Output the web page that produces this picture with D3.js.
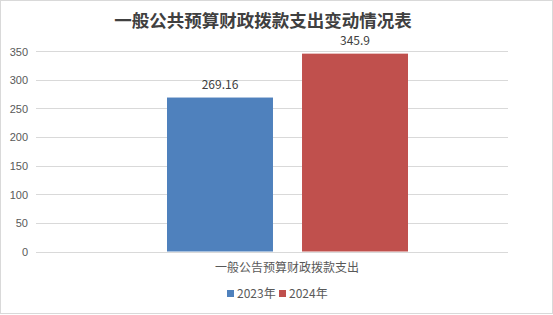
<!DOCTYPE html>
<html lang="zh">
<head>
  <meta charset="UTF-8" />
  <title>一般公共预算财政拨款支出变动情况表</title>
  <style>
    body { margin: 0; background: #fff; }
    svg { display: block; font-family: "Noto Sans CJK SC", "Liberation Sans", sans-serif; }
    .grid line { stroke: #d9d9d9; stroke-width: 1; }
    .axis text { fill: #595959; font-size: 11px; }
  </style>
</head>
<body>
  <script src="https://d3js.org/d3.v7.min.js"></script>
  <script>
    // data
    const category = "一般公告预算财政拨款支出";
    const years = ["2023年", "2024年"];
    const values = [269.16, 345.9];
    const colors = ["#4f81bd", "#c0504d"];
    const ticks = [0, 50, 100, 150, 200, 250, 300, 350];

    const width = 553, height = 315;
    const plotLeft = 36, plotRight = 508, plotTop = 51.3, plotBottom = 251.5;

    const svg = d3.select("body").append("svg")
      .attr("width", width)
      .attr("height", height);

    // outer frame
    svg.append("rect")
      .attr("x", 0.5).attr("y", 0.5)
      .attr("width", width - 1).attr("height", height - 2)
      .attr("fill", "#fff")
      .attr("stroke", "#d9d9d9");

    svg.append("text")
      .attr("x", 263).attr("y", 26.5)
      .attr("text-anchor", "middle")
      .attr("font-size", 17.5)
      .attr("font-weight", "bold")
      .attr("fill", "#404040")
      .text("一般公共预算财政拨款支出变动情况表");

    const y = d3.scaleLinear().domain([0, 350]).range([plotBottom, plotTop]);

    const x0 = d3.scaleBand().domain([category]).range([plotLeft, plotRight]);
    const x1 = d3.scaleBand().domain(years)
      .range([167, 408]).paddingInner(0.215);

    svg.append("g").attr("class", "grid")
      .selectAll("line")
      .data(ticks)
      .enter()
      .append("line")
      .attr("x1", plotLeft).attr("x2", plotRight)
      .attr("y1", d => Math.round(y(d)) + 0.5)
      .attr("y2", d => Math.round(y(d)) + 0.5);

    const axis = svg.append("g").attr("class", "axis")
      .attr("transform", `translate(${plotLeft - 8},0)`)
      .call(d3.axisLeft(y).tickValues(ticks).tickSize(0).tickPadding(0));
    axis.select(".domain").remove();
    axis.selectAll("text").attr("dy", "0.35em");

    svg.append("g")
      .selectAll("text")
      .data(values)
      .enter()
      .append("text")
      .attr("x", (d, i) => x1(years[i]) + x1.bandwidth() / 2)
      .attr("y", d => y(d) - 8.5)
      .attr("text-anchor", "middle")
      .attr("font-size", 12)
      .attr("fill", "#404040")
      .text(d => d);

    svg.append("g")
      .selectAll("rect")
      .data(values)
      .enter()
      .append("rect")
      .attr("x", (d, i) => x1(years[i]))
      .attr("width", x1.bandwidth())
      .attr("y", d => y(d))
      .attr("height", d => plotBottom - y(d))
      .attr("fill", (d, i) => colors[i]);

    svg.append("text")
      .attr("x", x0(category) + x0.bandwidth() / 2 + 15)
      .attr("y", 272)
      .attr("text-anchor", "middle")
      .attr("font-size", 12)
      .attr("fill", "#595959")
      .text(category);

    // legend
    const legend = svg.append("g")
      .selectAll("g")
      .data(years)
      .enter()
      .append("g")
      .attr("transform", (d, i) => `translate(${227 + i * 52},290)`);
    legend.append("rect")
      .attr("width", 7).attr("height", 7)
      .attr("fill", (d, i) => colors[i]);
    legend.append("text")
      .attr("x", 10).attr("y", 7.5)
      .attr("font-size", 12)
      .attr("fill", "#595959")
      .text(d => d);
  </script>
</body>
</html>
